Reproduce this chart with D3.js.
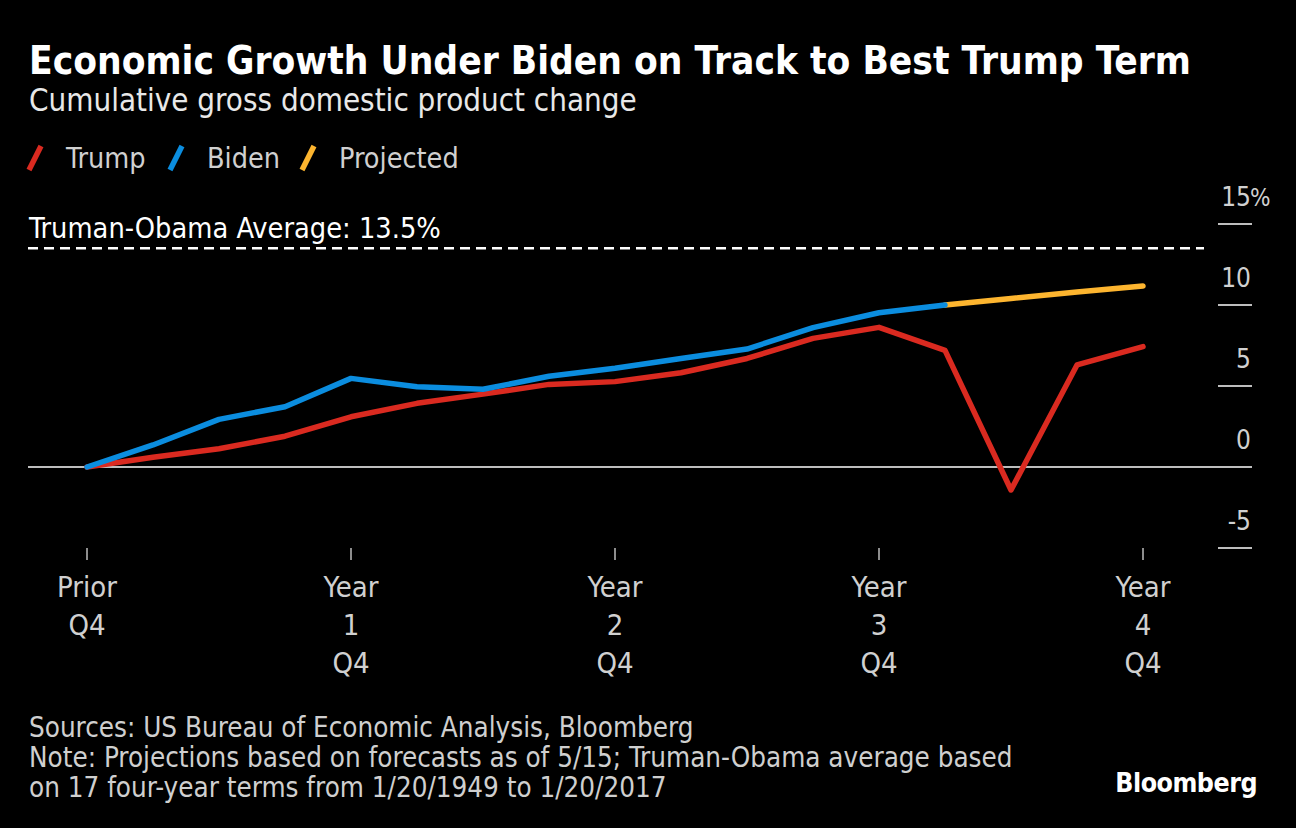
<!DOCTYPE html>
<html>
<head>
<meta charset="utf-8">
<script src="https://cdn.jsdelivr.net/npm/d3@7"></script>
<style>
  html, body { margin: 0; padding: 0; background: #000; }
  svg { display: block; }
  text { font-family: "DejaVu Sans Condensed", "DejaVu Sans", sans-serif; }
</style>
</head>
<body>
<svg id="chart" width="1296" height="828"></svg>
<script>
// ---- Data ----
const quarters = d3.range(0, 17); // 0 = Prior Q4 ... 16 = Year 4 Q4
const trumpValues = [0, 0.6, 1.13, 1.9, 3.1, 3.93, 4.5, 5.1, 5.27, 5.82, 6.7, 7.94, 8.62, 7.2, -1.42, 6.3, 7.43];
const bidenValues = [0, 1.36, 2.94, 3.72, 5.47, 4.96, 4.8, 5.6, 6.1, 6.7, 7.28, 8.6, 9.52, 10.0];
const projectedQuarters = [13, 14, 15, 16];
const projectedValues = [10.0, 10.4, 10.8, 11.17];
const averageValue = 13.5;
const yTicks = [-5, 0, 5, 10, 15];
const xTickQuarters = [0, 4, 8, 12, 16];
const xTickLabels = [["Prior", "Q4"], ["Year", "1", "Q4"], ["Year", "2", "Q4"], ["Year", "3", "Q4"], ["Year", "4", "Q4"]];
const legendItems = [
  { name: "Trump", color: "#da2a20" },
  { name: "Biden", color: "#0b8ddf" },
  { name: "Projected", color: "#fdb52f" }
];
const titleText = "Economic Growth Under Biden on Track to Best Trump Term";
const subtitleText = "Cumulative gross domestic product change";
const averageLabel = "Truman-Obama Average: 13.5%";
const footerLines = [
  "Sources: US Bureau of Economic Analysis, Bloomberg",
  "Note: Projections based on forecasts as of 5/15; Truman-Obama average based",
  "on 17 four-year terms from 1/20/1949 to 1/20/2017"
];

// ---- Setup ----
const svg = d3.select("#chart");
svg.append("rect").attr("width", 1296).attr("height", 828).attr("fill", "#000");

const x = d3.scaleLinear().domain([0, 16]).range([87, 1143]);
const y = d3.scaleLinear().domain([-5, 15]).range([548, 224]);

function fitText(sel, target) {
  const w = sel.node().getComputedTextLength();
  const fs = parseFloat(sel.attr("font-size"));
  const nfs = fs * target / w;
  sel.attr("font-size", nfs);
  return nfs;
}

// Title
const title = svg.append("text").attr("x", 29).attr("y", 74)
  .attr("fill", "#fff").attr("font-weight", "bold").attr("font-size", 34)
  .text(titleText);
fitText(title, 1162);

const subtitle = svg.append("text").attr("x", 29).attr("y", 111)
  .attr("fill", "#e8e8e8").attr("font-size", 27)
  .text(subtitleText);
fitText(subtitle, 608);

// Legend
const legendX = [29, 170, 302];
const legendG = svg.append("g");
legendItems.forEach((d, i) => {
  const g = legendG.append("g").attr("transform", `translate(${legendX[i]},0)`);
  g.append("line").attr("x1", 0).attr("y1", 170).attr("x2", 12).attr("y2", 146)
    .attr("stroke", d.color).attr("stroke-width", 5.5).attr("stroke-linecap", "butt");
  g.append("text").attr("x", 37).attr("y", 168).attr("fill", "#d0d0d0")
    .attr("font-size", 28.5).text(d.name);
});

// Y axis ticks (right side)
const yAxisG = svg.append("g");
yTicks.forEach(t => {
  yAxisG.append("line").attr("x1", 1218).attr("x2", 1252)
    .attr("y1", y(t)).attr("y2", y(t))
    .attr("stroke", "#bdbdbd").attr("stroke-width", 2);
  yAxisG.append("text").attr("x", 1251).attr("y", y(t) - 18)
    .attr("text-anchor", "end").attr("fill", "#d0d0d0").attr("font-size", 26)
    .text(t);
  if (t === 15) {
    yAxisG.append("text").attr("x", 1250).attr("y", y(t) - 18)
      .attr("fill", "#d0d0d0").attr("font-size", 24).text("%");
  }
});

// Zero line
svg.append("line").attr("x1", 28).attr("x2", 1218)
  .attr("y1", y(0)).attr("y2", y(0))
  .attr("stroke", "#bdbdbd").attr("stroke-width", 2);

// Average dashed line
svg.append("line").attr("x1", 28).attr("x2", 1204)
  .attr("y1", y(averageValue)).attr("y2", y(averageValue))
  .attr("stroke", "#fff").attr("stroke-width", 2.5)
  .attr("stroke-dasharray", "10,6");
const avgLbl = svg.append("text").attr("x", 29).attr("y", y(averageValue) - 10)
  .attr("fill", "#fff").attr("font-size", 27).text(averageLabel);
fitText(avgLbl, 412);

// X axis ticks & labels
xTickQuarters.forEach((q, i) => {
  svg.append("line").attr("x1", x(q)).attr("x2", x(q))
    .attr("y1", 548).attr("y2", 560)
    .attr("stroke", "#bdbdbd").attr("stroke-width", 1.5);
  const t = svg.append("text").attr("text-anchor", "middle")
    .attr("fill", "#d0d0d0").attr("font-size", 29);
  xTickLabels[i].forEach((s, j) => {
    t.append("tspan").attr("x", x(q)).attr("y", 597 + j * 38).text(s);
  });
});

// Lines
const line = d3.line().x(d => x(d[0])).y(d => y(d[1])).curve(d3.curveLinear);
svg.append("path").datum(trumpValues.map((v, i) => [quarters[i], v]))
  .attr("d", line).attr("fill", "none").attr("stroke", legendItems[0].color)
  .attr("stroke-width", 5.5).attr("stroke-linejoin", "round").attr("stroke-linecap", "round");
svg.append("path").datum(projectedValues.map((v, i) => [projectedQuarters[i], v]))
  .attr("d", line).attr("fill", "none").attr("stroke", legendItems[2].color)
  .attr("stroke-width", 5.5).attr("stroke-linejoin", "round").attr("stroke-linecap", "round");
svg.append("path").datum(bidenValues.map((v, i) => [quarters[i], v]))
  .attr("d", line).attr("fill", "none").attr("stroke", legendItems[1].color)
  .attr("stroke-width", 5.5).attr("stroke-linejoin", "round").attr("stroke-linecap", "round");

// Footer
const footerTexts = footerLines.map((s, i) =>
  svg.append("text").attr("x", 29).attr("y", 737 + i * 30)
    .attr("fill", "#cfcfcf").attr("font-size", 24).text(s));
const footerSize = fitText(footerTexts[1], 984);
footerTexts.forEach(t => t.attr("font-size", footerSize));

const logo = svg.append("text").attr("x", 1257).attr("y", 792).attr("text-anchor", "end")
  .attr("fill", "#fff").attr("font-weight", "bold").attr("font-size", 28)
  .attr("letter-spacing", -0.5).text("Bloomberg");
fitText(logo, 142);
</script>
</body>
</html>
